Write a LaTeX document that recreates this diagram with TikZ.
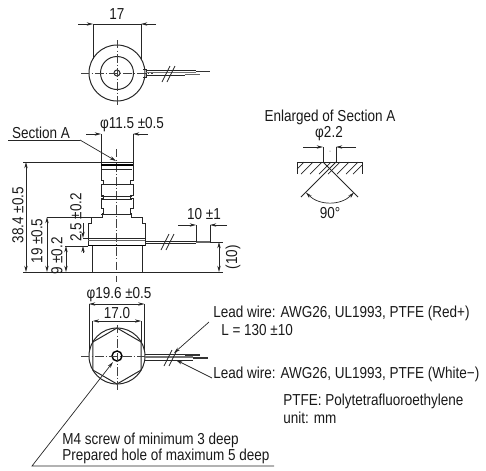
\documentclass[tikz,border=0pt]{standalone}
\usepackage{fontspec}
\setmainfont[FakeStretch=0.85]{Liberation Sans}
\usetikzlibrary{arrows.meta}
\tikzset{
	textlabel/.style={inner sep=0pt, font=\fontsize{11.3}{13}\selectfont, color=black!90},
	outline/.style={line width=0.7pt, color=black!85},
	thin line/.style={line width=0.5pt, color=black!85},
	center line/.style={line width=0.45pt, color=black!75, dash pattern=on 6pt off 1.5pt on 1pt off 1.5pt},
	dimtip/.style={line width=0.5pt, color=black!85, >={Stealth[length=4.5pt,width=2.4pt]}},
	wire/.style={line width=1pt, color=black!80},
}
\newcommand{\breakmark}[2]{
	\draw[thin line] (#1-5, #2+8) -- (#1+3, #2-8);
	\draw[thin line] (#1, #2+8) -- (#1+8, #2-8);
}
\begin{document}
\begin{tikzpicture}[x=0.025cm, y=-0.025cm]
	\useasboundingbox (0,0) rectangle (486,470);

	% top view
	\draw[outline] (117,73) circle (28);
	\draw[outline] (117,73) circle (16.5);
	\draw[outline] (117,73) circle (3);
	\draw[center line] (81,73) -- (153,73);
	\draw[center line] (117,40) -- (117,106);
	\draw[outline] (143,69) -- (146,69) -- (146,77) -- (143,77);
	\draw[thin line] (146,70) -- (196,70);
	\draw[thin line] (146,75) -- (185,75);
	\draw[wire, color=black!55] (146,72.5) -- (196,72.5);
	\draw[wire] (196,71.7) -- (210,71.7);
	\draw[wire, color=black!60] (185,74.5) -- (200,74.5);
	\breakmark{167}{74}
	\draw[thin line] (93,24) -- (93,59);
	\draw[thin line] (141,24) -- (141,59);
	\draw[dimtip,->] (78,24) -- (93,24);
	\draw[dimtip,->] (156,24) -- (141,24);
	\draw[thin line] (93,24) -- (141,24);
	\node[textlabel] (topwidth) at (117,14) {17};

	% side view
	\draw[center line] (116.7,149) -- (116.7,282);
	\draw[outline] (101,162) -- (101,180) -- (103,180) -- (103,184) -- (101,184) -- (101,195) -- (103,195) -- (103,198) -- (101,198) -- (101,208) -- (103,208) -- (103,213) -- (102,213) -- (102,217)
		-- (91.4,217) -- (91.4,223) -- (88,223) -- (88,245.5) -- (145,245.5) -- (145,223) -- (142,223) -- (142,217)
		-- (131.5,217) -- (131.5,213) -- (130.5,213) -- (130.5,208) -- (133,208) -- (133,198) -- (130.5,198) -- (130.5,195) -- (133,195) -- (133,184) -- (130.5,184) -- (130.5,180) -- (133,180) -- (133,162) -- cycle;
	\draw[line width=1pt] (101,165) -- (133,165);
	\foreach \yline in {169,184,196,199,214}
		\draw[outline] (101,\yline) -- (132,\yline);
	\draw[outline] (88,238) -- (145,238);
	\draw[thin line, color=black!60] (88,240) -- (145,240);
	\draw[line width=1pt] (88,245.5) -- (145,245.5);
	\draw[outline] (92.5,245.5) -- (92.5,272);
	\draw[outline] (142,245.5) -- (142,272);
	\draw[outline] (23,272) -- (223,272);
	\draw[thin line] (145,241) -- (196,241);
	\draw[thin line] (145,243) -- (196,243);
	\draw[wire, color=black!60] (196,242) -- (210,242);
	\breakmark{166}{242}
	\draw[thin line] (210,242) -- (223,242);

	% side view dimensions
	\coordinate (tip) at (116,161);
	\draw[thin line] (8,140) -- (80,140);
	\draw[dimtip,->] (80,140) -- (tip);
	\node[textlabel] (sectiona) at (41,132.5) {Section A};
	\draw[thin line] (101,134) -- (101,162);
	\draw[thin line] (133,134) -- (133,162);
	\draw[dimtip,->] (86,134) -- (101,134);
	\draw[dimtip,->] (148,134) -- (133,134);
	\node[textlabel] (neckwidth) at (132,125) {φ11.5 ±0.5};
	\draw[thin line] (23,162) -- (101,162);
	\draw[thin line] (47,217) -- (91,217);
	\draw[thin line] (65,246) -- (88,246);
	\draw[thin line] (83,238) -- (88,238);
	\draw[dimtip,<->] (26,162) -- (26,272);
	\node[textlabel, rotate=90] (totallength) at (18,215) {38.4 ±0.5};
	\draw[dimtip,<->] (47,217) -- (47,272);
	\node[textlabel, rotate=90] (flangeheight) at (37,241) {19 ±0.5};
	\draw[dimtip,<->] (66,246) -- (66,272);
	\node[textlabel, rotate=90] (baseheight) at (57,256) {9 ±0.2};
	\draw[dimtip,->] (83,223) -- (83,238);
	\draw[dimtip,->] (83,253) -- (83,246);
	\node[textlabel, rotate=90] (collarheight) at (76,217.5) {2.5 ±0.2};
	\draw[thin line] (196,225) -- (196,242);
	\draw[thin line] (210,225) -- (210,242);
	\draw[dimtip,->] (178,225) -- (196,225);
	\draw[dimtip,->] (227,225) -- (210,225);
	\node[textlabel] (stripped) at (204,214) {10 ±1};
	\draw[dimtip,<->] (219,242) -- (219,272);
	\node[textlabel, rotate=90] (wireheight) at (233,257) {(10)};

	% enlarged section
	\node[textlabel] (enlarged) at (330,117) {Enlarged of Section A};
	\node[textlabel] (holewidth) at (329,134) {φ2.2};
	\draw[thin line] (323,147) -- (323,162);
	\draw[thin line] (336,147) -- (336,162);
	\draw[dimtip,->] (303,147) -- (323,147);
	\draw[dimtip,->] (356,147) -- (336,147);
	\fill[black!70] (330,151) circle (0.5);
	\draw[outline] (297,174) -- (297,162) -- (362,162) -- (362,174);
	\draw[thin line] (304,162) -- (297,169);
	\foreach \xhatch in {313,322,...,358}
		\draw[thin line] (\xhatch,162) -- (\xhatch-12,174);
	\draw[thin line] (362,165) -- (353,174);
	\draw[outline] (323,162) -- (358,197);
	\draw[outline] (336,162) -- (301,197);
	\draw[dimtip,<->] (354,192.5) arc[start angle=45, end angle=135, radius=34];
	\node[textlabel] (angle) at (330,213) {90°};

	% bottom view
	\draw[outline] (117,356) circle (28);
	\draw[outline] (117,328) -- (141.2,342) -- (141.2,370) -- (117,384) -- (92.8,370) -- (92.8,342) -- cycle;
	\draw[line width=1pt] (117,356) circle (5);
	\draw[center line] (81,356) -- (153,356);
	\draw[center line] (117,325) -- (117,391);
	\draw[thin line] (145,354) -- (200,354);
	\draw[thin line] (145,360) -- (193,360);
	\draw[wire, color=black!55] (145,357) -- (193,357);
	\draw[wire] (185,355) -- (200,355);
	\draw[wire] (193,358) -- (208,358);
	\breakmark{169}{358}

	% bottom view dimensions
	\draw[thin line] (89,304) -- (89,350);
	\draw[thin line] (144.5,304) -- (144.5,350);
	\draw[dimtip,<->] (89,304) -- (144.5,304);
	\node[textlabel] (outerwidth) at (119,295) {φ19.6 ±0.5};
	\draw[thin line] (92.8,321) -- (92.8,342);
	\draw[thin line] (141.2,321) -- (141.2,342);
	\draw[dimtip,<->] (92.8,321) -- (141.2,321);
	\node[textlabel] (flats) at (117,313) {17.0};

	% notes
	\node[textlabel, anchor=west] (redwire) at (213,313) {Lead wire: AWG26, UL1993, PTFE (Red+)};
	\node[textlabel, anchor=west] (wirelength) at (221,330) {L = 130 ±10};
	\node[textlabel, anchor=west] (whitewire) at (213,374) {Lead wire: AWG26, UL1993, PTFE (White−)};
	\node[textlabel, anchor=west] (ptfe) at (283,401) {PTFE: Polytetrafluoroethylene};
	\node[textlabel, anchor=west] (unit) at (283,418) {unit: mm};
	\node[textlabel, anchor=west] (screw) at (62,440) {M4 screw of minimum 3 deep};
	\node[textlabel, anchor=west] (hole) at (62,456) {Prepared hole of maximum 5 deep};
	\coordinate (redtip) at (174,353);
	\coordinate (whitetip) at (176,360);
	\coordinate (holetip) at (113,362);
	\coordinate (bend) at (32,466);
	\coordinate (holeend) at (274,466);
	\draw[dimtip,->] (209,322) -- (redtip);
	\draw[dimtip,->] (212,378) -- (whitetip);
	\draw[dimtip,->] (holeend) -- (bend) -- (holetip);
\end{tikzpicture}
\end{document}
